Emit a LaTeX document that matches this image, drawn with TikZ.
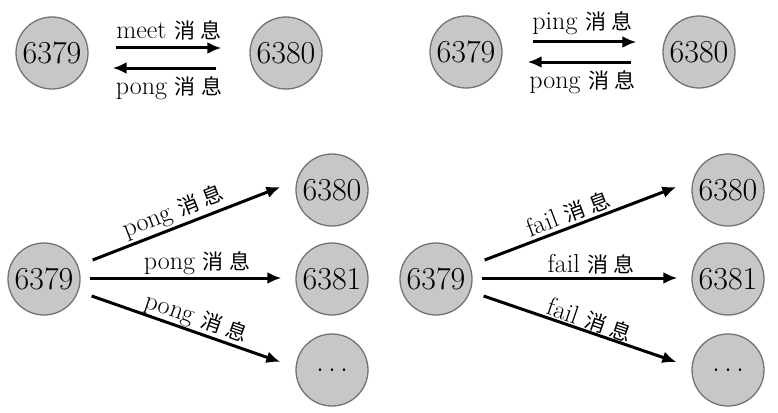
\documentclass[tikz,border=0pt]{standalone}
\usepackage{fontspec}
\newfontfamily\cjk[LetterSpace=25]{Noto Sans CJK SC}
\usetikzlibrary{arrows.meta}
\newcommand{\msg}[1]{#1\ {\cjk\fontsize{21}{24}\selectfont 消息}}

\tikzset{
	host/.style={circle, draw=black!55, fill=black!22, line width=1.3pt, minimum size=72pt, inner sep=0pt, font=\fontsize{32}{36}\selectfont},
	msgarrow/.style={line width=3pt, -{Latex[length=14pt,width=12pt]}},
	msglabel/.style={font=\fontsize{26}{30}\selectfont, inner sep=2pt}
}

\begin{document}
\begin{tikzpicture}[x=1pt,y=-1pt]
	\useasboundingbox (0,0) rectangle (778,412);
	
	% meet / pong
	\node[host] (m0) at (52,53) {6379};
	\node[host] (m1) at (286,53) {6380};
	\draw[msgarrow, shorten <=27pt, shorten >=28pt] ([yshift=5pt]m0.east) -- node[msglabel, above=4pt] {\msg{meet}} ([yshift=5pt]m1.west);
	\draw[msgarrow, shorten <=33pt, shorten >=24pt] ([yshift=-15pt]m1.west) -- node[msglabel, below=5pt] {\msg{pong}} ([yshift=-15pt]m0.east);
	
	% ping / pong
	\node[host] (g0) at (466,52) {6379};
	\node[host] (g1) at (699,52) {6380};
	\draw[msgarrow, shorten <=30pt, shorten >=26pt] ([yshift=10pt]g0.east) -- node[msglabel, above=4pt] {\msg{ping}} ([yshift=10pt]g1.west);
	\draw[msgarrow, shorten <=31pt, shorten >=25pt] ([yshift=-10pt]g1.west) -- node[msglabel, below=5pt] {\msg{pong}} ([yshift=-10pt]g0.east);
	
	% broadcast
	\foreach \src/\dst/\w/\n in {44/332/pong/p, 436/728/fail/f} {
		\node[host] (\n0) at (\src,279) {6379};
		\node[host] (\n1) at (\dst,190) {6380};
		\node[host] (\n2) at (\dst,279) {6381};
		\node[host] (\n3) at (\dst,370) {.\hspace{4pt}.\hspace{4pt}.};
		
		\draw[msgarrow] ([shift={(12,-19)}]\n0.east) -- node[msglabel, sloped, above=0pt, pos=.46] {\msg{\w}} ([shift={(-15,-3)}]\n1.west);
		\draw[msgarrow] ([shift={(9,-1)}]\n0.east) -- node[msglabel, above=0pt, pos=.56] {\msg{\w}} ([shift={(-14,-1)}]\n2.west);
		\draw[msgarrow] ([shift={(11,17)}]\n0.east) -- node[msglabel, sloped, above=-2pt, pos=.53] {\msg{\w}} ([shift={(-15,-8)}]\n3.west);
	}
	
\end{tikzpicture}
\end{document}
